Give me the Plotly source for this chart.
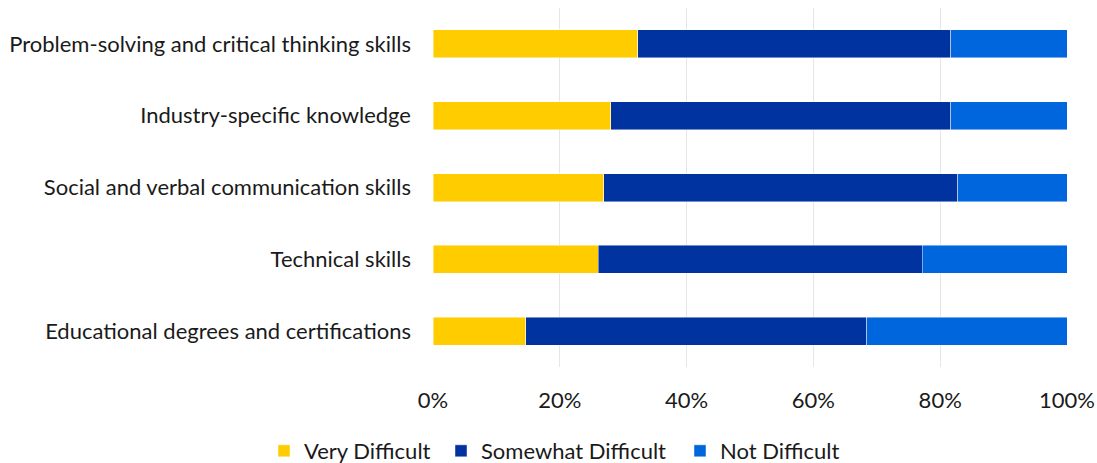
import plotly.graph_objects as go

categories = [
    "Educational degrees and certifications",
    "Technical skills",
    "Social and verbal communication skills",
    "Industry-specific knowledge",
    "Problem-solving and critical thinking skills",
]
very_difficult = [14.6, 26.1, 26.9, 28.0, 32.3]
somewhat_difficult = [53.8, 51.1, 55.9, 53.7, 49.4]
not_difficult = [31.6, 22.8, 17.2, 18.3, 18.3]

series = [
    ("Very Difficult", very_difficult, "#FFCC00", "legend"),
    ("Somewhat Difficult", somewhat_difficult, "#0033A0", "legend2"),
    ("Not Difficult", not_difficult, "#0066DD", "legend3"),
]

W, H = 1097, 463
L, R, T, B = 433, 30, 8, 96
pw, ph = W - L - R, H - T - B

def px_x(px):
    return (px - L) / pw

def px_y(py):
    return (H - B - py) / ph

fig = go.Figure()
for name, vals, color, leg in series:
    fig.add_trace(go.Bar(
        y=categories, x=vals, name=name, orientation="h", legend=leg,
        marker=dict(color=color, line=dict(color="rgba(255,255,255,0.6)", width=0.75)),
    ))

font_family = "Lato, 'Open Sans', sans-serif"
leg_common = dict(orientation="h", xanchor="left", yanchor="middle",
                  y=px_y(451), font=dict(size=22, color="#1a1a1a"),
                  itemwidth=30, bgcolor="rgba(0,0,0,0)", borderwidth=0)
fig.update_layout(
    barmode="stack",
    bargap=0.61,
    width=W, height=H,
    margin=dict(l=L, r=R, t=T, b=B, autoexpand=False),
    paper_bgcolor="white", plot_bgcolor="white",
    font=dict(family=font_family, size=22, color="#1a1a1a"),
    xaxis=dict(range=[0, 100], dtick=20, ticksuffix="%", showgrid=True,
               gridcolor="#E6E6E6", gridwidth=1, zeroline=False,
               ticks="", showline=False, automargin=False,
               ticklabelstandoff=18),
    yaxis=dict(showgrid=False, ticks="", ticklen=0, showline=False,
               ticklabelstandoff=21, automargin=False),
    legend=dict(x=px_x(264), **leg_common),
    legend2=dict(x=px_x(441), **leg_common),
    legend3=dict(x=px_x(680), **leg_common),
    showlegend=True,
)
fig.write_html(
    "out.html",
    config={"displayModeBar": False},
    post_script="document.body.style.margin='0';document.body.style.overflow='hidden';",
)
